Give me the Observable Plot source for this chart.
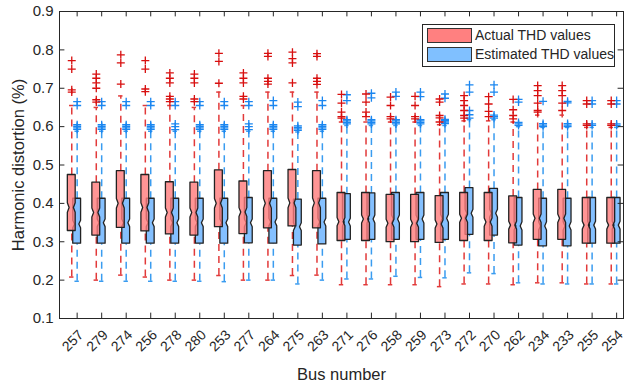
<!DOCTYPE html>
<html><head><meta charset="utf-8">
<script src="https://cdn.jsdelivr.net/npm/d3@7"></script>
<script src="https://cdn.jsdelivr.net/npm/@observablehq/plot@0.6"></script>
<style>
body{margin:0;background:#fff;font-family:"Liberation Sans",Arial,sans-serif;}
#wrap{position:relative;width:626px;height:387px;overflow:hidden;}
#legend{position:absolute;left:422px;top:24px;width:193px;height:43px;box-sizing:border-box;border:1px solid #262626;background:#fff;}
.sw{position:absolute;left:4px;width:45px;height:15px;box-sizing:border-box;border:1.3px solid #333;}
.lt{position:absolute;left:52px;font-size:14px;line-height:15px;color:#262626;white-space:nowrap;}
</style></head>
<body>
<div id="wrap"><div id="chart"></div>
<div id="legend">
  <div class="sw" style="top:3px;background:#ff8080"></div><div class="lt" style="top:3px">Actual THD values</div>
  <div class="sw" style="top:22px;background:#80c0ff"></div><div class="lt" style="top:22px">Estimated THD values</div>
</div></div>
<script>
const buses = ["257","279","274","256","278","280","253","277","264","275","263","271","276","258","259","273","272","270","262","234","233","255","254"];
const yTicks = [0.1,0.2,0.3,0.4,0.5,0.6,0.7,0.8,0.9];

// Actual THD values
const actQ1  = [0.328,0.316,0.336,0.327,0.319,0.316,0.338,0.320,0.335,0.340,0.335,0.302,0.302,0.299,0.299,0.297,0.302,0.302,0.296,0.305,0.305,0.295,0.295];
const actMed = [0.388,0.375,0.399,0.388,0.375,0.375,0.399,0.376,0.399,0.400,0.400,0.351,0.358,0.347,0.347,0.345,0.360,0.350,0.342,0.360,0.360,0.342,0.342];
const actQ3  = [0.474,0.454,0.484,0.474,0.455,0.454,0.486,0.457,0.484,0.487,0.484,0.427,0.427,0.422,0.422,0.419,0.427,0.427,0.418,0.435,0.435,0.414,0.414];
const actLo  = [0.208,0.200,0.213,0.208,0.200,0.200,0.212,0.200,0.200,0.212,0.213,0.188,0.188,0.188,0.188,0.183,0.190,0.190,0.188,0.193,0.193,0.190,0.190];
const actHi  = [0.655,0.650,0.680,0.655,0.655,0.650,0.690,0.655,0.690,0.690,0.690,0.612,0.612,0.612,0.612,0.605,0.615,0.615,0.612,0.630,0.630,0.598,0.598];
const actOut = [
  [0.772,0.750,0.696,0.690],
  [0.737,0.726,0.714,0.700,0.670,0.664],
  [0.787,0.766,0.711],
  [0.772,0.750,0.698,0.691],
  [0.740,0.726,0.714,0.679,0.672,0.665],
  [0.737,0.726,0.714,0.672,0.665],
  [0.791,0.770,0.713],
  [0.740,0.726,0.714,0.679,0.672],
  [0.791,0.783,0.726,0.718,0.711],
  [0.794,0.777,0.766,0.714],
  [0.790,0.783,0.726,0.718,0.710],
  [0.684,0.661,0.638,0.626,0.622],
  [0.685,0.664,0.638,0.626],
  [0.677,0.655,0.626,0.620],
  [0.679,0.655,0.626,0.620],
  [0.672,0.664,0.629,0.623,0.612],
  [0.681,0.668,0.655,0.642,0.629,0.622],
  [0.678,0.659,0.640,0.626],
  [0.671,0.644,0.629,0.620],
  [0.707,0.694,0.681,0.661,0.642,0.638],
  [0.707,0.694,0.681,0.661,0.642],
  [0.668,0.659,0.607,0.603],
  [0.668,0.659,0.607,0.603]
];

// Estimated THD values
const estQ1  = [0.295,0.295,0.295,0.295,0.295,0.295,0.295,0.296,0.295,0.290,0.293,0.305,0.305,0.305,0.305,0.305,0.318,0.316,0.290,0.288,0.288,0.295,0.295];
const estMed = [0.345,0.348,0.348,0.348,0.348,0.348,0.348,0.348,0.350,0.338,0.350,0.350,0.358,0.358,0.358,0.360,0.373,0.373,0.340,0.340,0.340,0.342,0.342];
const estQ3  = [0.412,0.412,0.412,0.412,0.412,0.412,0.412,0.414,0.412,0.410,0.412,0.424,0.426,0.427,0.427,0.427,0.440,0.438,0.414,0.412,0.412,0.414,0.414];
const estLo  = [0.197,0.197,0.197,0.197,0.197,0.197,0.196,0.200,0.200,0.190,0.200,0.203,0.203,0.210,0.207,0.206,0.219,0.217,0.193,0.190,0.190,0.190,0.190];
const estHi  = [0.588,0.588,0.588,0.588,0.588,0.588,0.588,0.588,0.588,0.586,0.588,0.603,0.603,0.603,0.603,0.603,0.618,0.618,0.600,0.598,0.598,0.598,0.598];
const estOut = [
  [0.665,0.655,0.593,0.597,0.601,0.605],
  [0.665,0.655,0.593,0.597,0.601,0.605],
  [0.665,0.655,0.593,0.597,0.601,0.605],
  [0.665,0.655,0.593,0.597,0.601,0.605],
  [0.665,0.655,0.607,0.600,0.592],
  [0.665,0.655,0.593,0.597,0.601,0.605],
  [0.665,0.655,0.593,0.597,0.601,0.605],
  [0.665,0.655,0.607,0.600,0.592],
  [0.668,0.655,0.593,0.597,0.601,0.605],
  [0.664,0.652,0.590,0.594,0.598,0.602],
  [0.668,0.655,0.593,0.597,0.601,0.605],
  [0.683,0.668,0.607,0.611,0.615,0.618],
  [0.687,0.675,0.607,0.611,0.615,0.618],
  [0.690,0.679,0.607,0.611,0.615,0.618],
  [0.690,0.678,0.607,0.611,0.615,0.618],
  [0.685,0.674,0.608,0.612,0.616,0.619],
  [0.709,0.690,0.642,0.631,0.622],
  [0.709,0.690,0.622,0.626,0.630],
  [0.671,0.664,0.603,0.607,0.611],
  [0.666,0.600,0.604,0.608],
  [0.666,0.662,0.600,0.604,0.608],
  [0.668,0.659,0.607,0.603],
  [0.668,0.659,0.607,0.603]
];

const series = [
  {key:"act", off:0,    q1:actQ1, med:actMed, q3:actQ3, lo:actLo, hi:actHi, out:actOut, fill:"#ff7b7b", line:"#e23a3a", dot:"#d80f0f"},
  {key:"est", off:0.22, q1:estQ1, med:estMed, q3:estQ3, lo:estLo, hi:estHi, out:estOut, fill:"#7dbdff", line:"#3a9cf0", dot:"#1a86f0"}
];
const hw = 0.16;

function build(s){
  const poly = [], whisk = [], caps = [], outs = [];
  buses.forEach((b,i)=>{
    const cx = i + 1 + s.off;
    const q1=s.q1[i], m=s.med[i], q3=s.q3[i];
    const n = 0.085*(q3-q1);
    const id = s.key+b;
    poly.push({id, y:q1, x1:cx-hw, x2:cx+hw});
    poly.push({id, y:m-n, x1:cx-hw, x2:cx+hw});
    poly.push({id, y:m, x1:cx-hw*0.55, x2:cx+hw*0.55});
    poly.push({id, y:m+n, x1:cx-hw, x2:cx+hw});
    poly.push({id, y:q3, x1:cx-hw, x2:cx+hw});
    whisk.push({x:cx, y1:s.lo[i], y2:q1});
    whisk.push({x:cx, y1:q3, y2:s.hi[i]});
    caps.push({y:s.lo[i], x1:cx-0.09, x2:cx+0.09});
    caps.push({y:s.hi[i], x1:cx-0.09, x2:cx+0.09});
    s.out[i].forEach(v=>outs.push({x:cx, y:v}));
  });
  return {poly, whisk, caps, outs};
}
const A = build(series[0]), E = build(series[1]);
const xTicks = buses.map((b,i)=>i+1+0.22);

function layers(d, s){
  return [
    Plot.ruleX(d.whisk, {x:"x", y1:"y1", y2:"y2", stroke:s.line, strokeWidth:1.5, strokeDasharray:"7,5"}),
    Plot.ruleY(d.caps, {y:"y", x1:"x1", x2:"x2", stroke:s.line, strokeWidth:1.5})
  ];
}

const chart = Plot.plot({
  width:626, height:387,
  marginLeft:59, marginRight:3, marginTop:11, marginBottom:69,
  style:{fontFamily:"'Liberation Sans', Arial, sans-serif", color:"#262626", background:"#fff"},
  x:{domain:[0.5,23.5]},
  y:{domain:[0.1,0.9]},
  marks:[
    ...layers(E, series[1]),
    ...layers(A, series[0]),
    Plot.areaX(E.poly, {y:"y", x1:"x1", x2:"x2", z:"id", fill:series[1].fill, fillOpacity:0.95, stroke:"#222", strokeWidth:1.3}),
    Plot.areaX(A.poly, {y:"y", x1:"x1", x2:"x2", z:"id", fill:series[0].fill, fillOpacity:0.8, stroke:"#222", strokeWidth:1.3}),
    Plot.dot(E.outs, {x:"x", y:"y", symbol:"plus", r:2.7, stroke:series[1].dot, strokeWidth:1.3}),
    Plot.dot(A.outs, {x:"x", y:"y", symbol:"plus", r:2.7, stroke:series[0].dot, strokeWidth:1.3}),
    // inward ticks
    Plot.ruleY(yTicks, {y:d=>d, x1:0.5, x2:0.72, stroke:"#262626"}),
    Plot.ruleY(yTicks, {y:d=>d, x1:23.28, x2:23.5, stroke:"#262626"}),
    Plot.ruleX(xTicks, {x:d=>d, y1:0.1, y2:0.114, stroke:"#262626"}),
    Plot.ruleX(xTicks, {x:d=>d, y1:0.886, y2:0.9, stroke:"#262626"}),
    Plot.frame({stroke:"#262626", strokeWidth:1}),
    Plot.axisY({ticks:yTicks, tickSize:0, tickPadding:6, fontSize:15, tickFormat:d=>d.toFixed(1), label:null}),
    Plot.axisX({ticks:xTicks, tickSize:0, tickPadding:14, tickRotate:-45, fontSize:14, dx:4, tickFormat:d=>buses[Math.round(d-1.22)], label:null}),
    Plot.text(["Bus number"], {frameAnchor:"bottom", textAnchor:"middle", lineAnchor:"middle", dy:56, fontSize:16.5, fill:"#262626"}),
    Plot.text(["Harmonic distortion (%)"], {frameAnchor:"left", textAnchor:"middle", lineAnchor:"middle", rotate:-90, dx:-41, fontSize:16.5, fill:"#262626"})
  ]
});
document.getElementById("chart").appendChild(chart);
</script>
</body></html>
